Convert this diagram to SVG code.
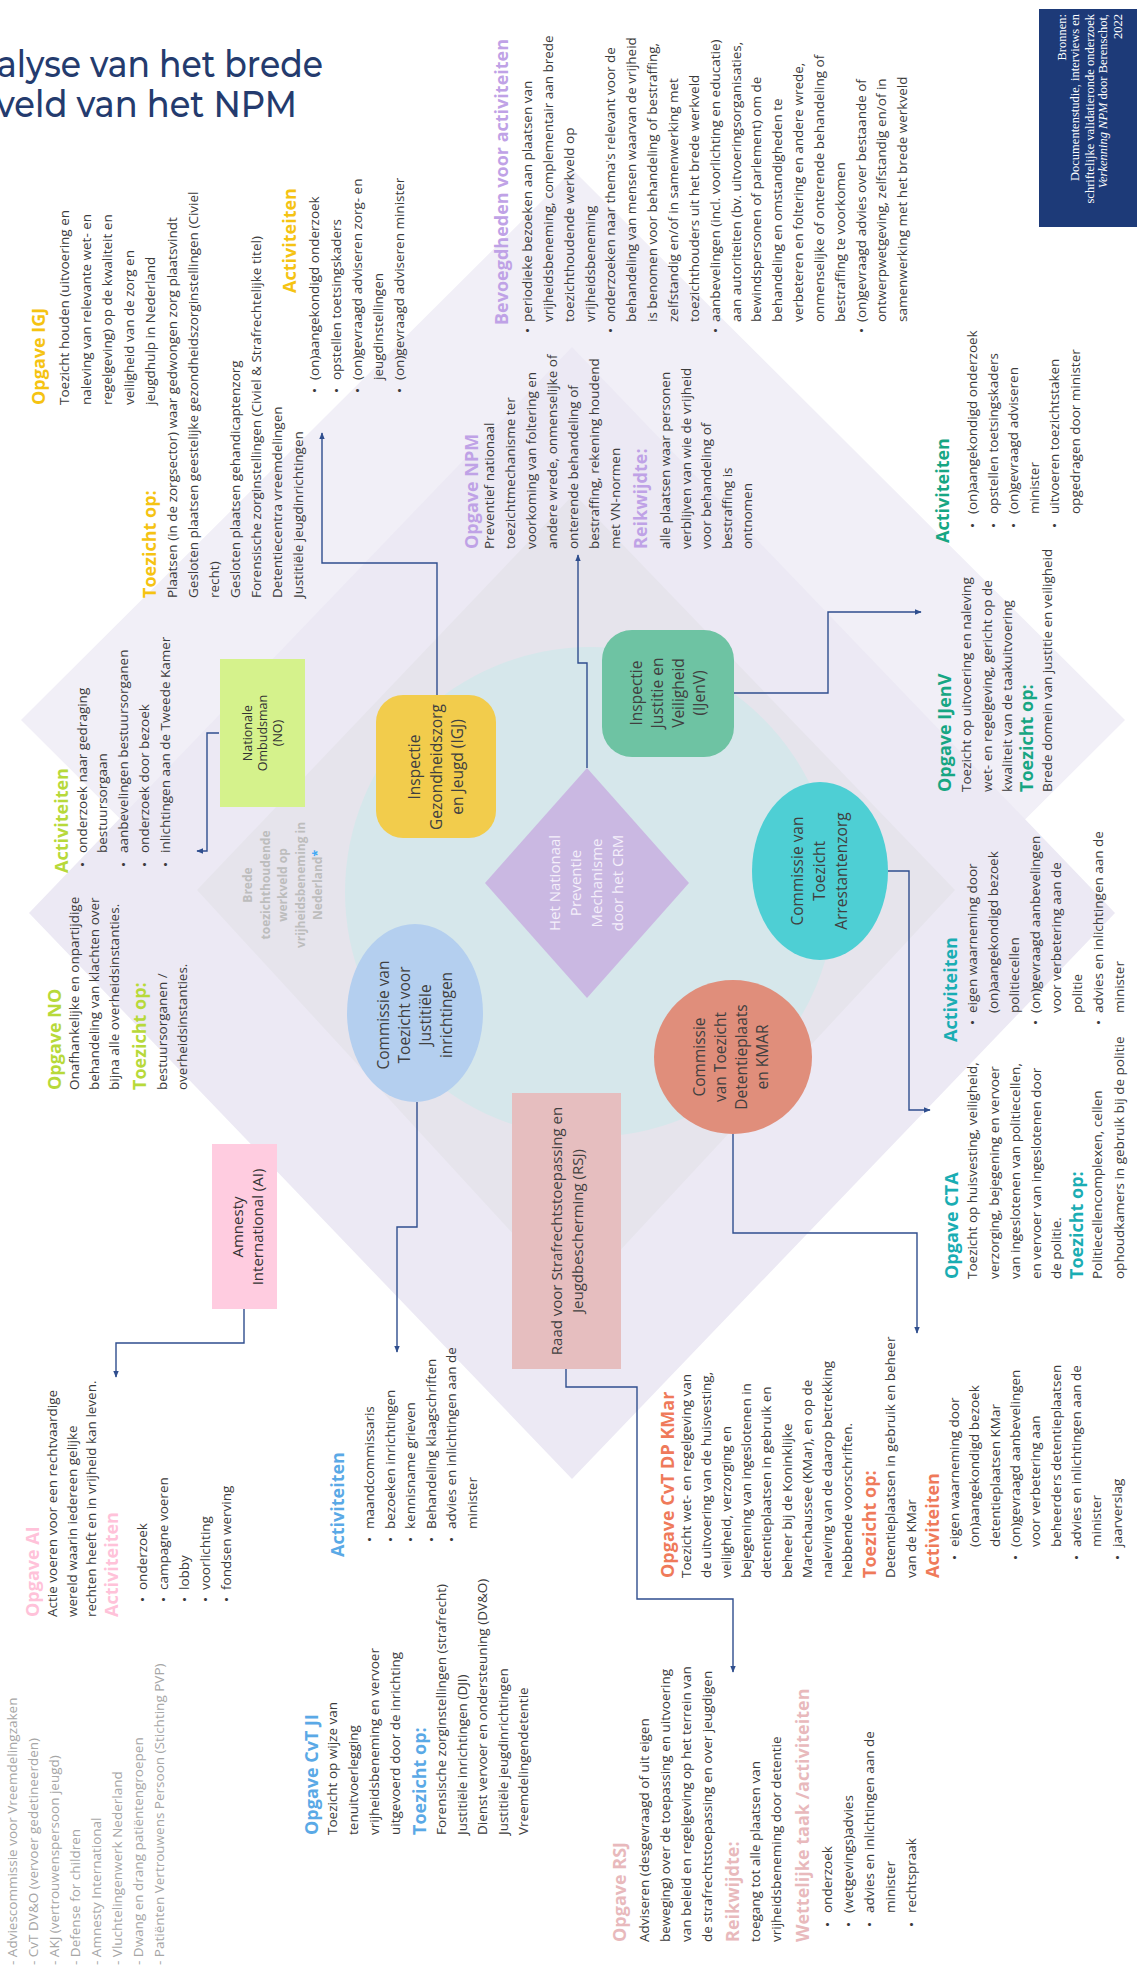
<svg xmlns="http://www.w3.org/2000/svg" width="1137" height="1972" viewBox="0 0 1137 1972">
<defs>
<marker id="ah" viewBox="0 0 10 10" refX="9" refY="5" markerWidth="7" markerHeight="7" orient="auto" markerUnits="userSpaceOnUse"><path d="M0,1 L10,5 L0,9 z" fill="#2F4E8E"/></marker>
<style>
.t{font-family:"Open Sans","Liberation Sans",sans-serif;font-size:13.5px;fill:#3b3b3b}
.h{font-weight:700;font-size:18px}
.lbl{font-family:"Open Sans","Liberation Sans",sans-serif;font-size:15.5px;fill:#404040;text-anchor:middle}
.cn{fill:none;stroke:#2F4E8E;stroke-width:1.4;marker-end:url(#ah)}
.igj{fill:#F5C312}.npm{fill:#BFA2E6}.no{fill:#B7D93A}.ai{fill:#FFC2D9}.ji{fill:#5AA9E6}.rsj{fill:#E8B9BC}.kmar{fill:#EF7A5A}.cta{fill:#1AADB3}.ijv{fill:#17A683}
.grey{fill:#A6A6A6}
</style>
</defs>
<rect width="1137" height="1972" fill="#ffffff"/>
<g id="background">
<polygon points="573,170 1125,720 573,1270 21,720" fill="#F1EFF7"/>
<polygon points="572,347 1115,913 572,1479 29,913" fill="#ECE9F4"/>
<polygon points="574,494 955,890 574,1300 197,890" fill="#E6E4EC"/>
<circle cx="590" cy="892" r="245" fill="#D6E7EB"/>
</g>
<g id="title">
<text x="-3" y="77" textLength="326" lengthAdjust="spacingAndGlyphs" font-family="Montserrat, Inter, 'Noto Sans', sans-serif" font-size="37" font-weight="500" fill="#243B6E">alyse van het brede</text>
<text x="-4" y="117" textLength="301" lengthAdjust="spacingAndGlyphs" font-family="Montserrat, Inter, 'Noto Sans', sans-serif" font-size="37" font-weight="500" fill="#243B6E">veld van het NPM</text>
</g>
<g id="bronnen">
<rect x="1039" y="9" width="98" height="218" fill="#1D3A78"/>
<text transform="translate(0,14) rotate(-90)" text-anchor="end" font-family="'Liberation Serif', serif" font-size="12.5" fill="#ffffff"><tspan x="0" y="1065.5">Bronnen:</tspan><tspan x="0" y="1079">Documentenstudie, interviews en</tspan><tspan x="0" y="1093.5">schriftelijke validatieronde onderzoek</tspan><tspan x="0" y="1107"><tspan font-style="italic">Verkenning NPM</tspan> door Berenschot,</tspan><tspan x="0" y="1121.5">2022</tspan></text>
</g>
<g id="connectors">
<path class="cn" d="M219,733 H207 V851 H197"/>
<path class="cn" d="M437,695 V563 H322 V433"/>
<path class="cn" d="M587,768 V663 H578 V555"/>
<path class="cn" d="M734,693 H828 V612 H921"/>
<path class="cn" d="M888,871 H909 V1110 H930"/>
<path class="cn" d="M733,1133 V1233 H917 V1333"/>
<path class="cn" d="M417,1102 V1227 H397 V1352"/>
<path class="cn" d="M566,1369 V1387 H637 V1599 H733 V1672"/>
<path class="cn" d="M244,1309 V1343 H116 V1377"/>
</g>
<g id="node-npm">
<polygon points="587,768 689,883 587,998 485,883" fill="#CAB8E2"/>
<text class="lbl" style="fill:#F4EFFA;font-size:15px" transform="translate(0,883) rotate(-90)"><tspan x="0" y="560">Het Nationaal</tspan><tspan x="0" y="581">Preventie</tspan><tspan x="0" y="602">Mechanisme</tspan><tspan x="0" y="623">door het CRM</tspan></text>
</g>
<g id="node-igj">
<rect x="376" y="695" width="120" height="143" rx="27" fill="#F2CC4C"/>
<text class="lbl" transform="translate(0,767) rotate(-90)"><tspan x="0" y="420">Inspectie</tspan><tspan x="0" y="442">Gezondheidszorg</tspan><tspan x="0" y="463">en Jeugd (IGJ)</tspan></text>
</g>
<g id="node-ijenv">
<rect x="602" y="630" width="132" height="127" rx="30" fill="#6EC3A3"/>
<text class="lbl" transform="translate(0,693) rotate(-90)"><tspan x="0" y="642">Inspectie</tspan><tspan x="0" y="663">Justitie en</tspan><tspan x="0" y="684">Veiligheid</tspan><tspan x="0" y="705">(IJenV)</tspan></text>
</g>
<g id="node-cta">
<ellipse cx="820" cy="871" rx="68" ry="89" fill="#4ECFD4"/>
<text class="lbl" transform="translate(0,871) rotate(-90)"><tspan x="0" y="803">Commissie van</tspan><tspan x="0" y="825">Toezicht</tspan><tspan x="0" y="847">Arrestantenzorg</tspan></text>
</g>
<g id="node-kmar">
<ellipse cx="733" cy="1057" rx="79" ry="77" fill="#E08E7B"/>
<text class="lbl" transform="translate(0,1057) rotate(-90)"><tspan x="0" y="705">Commissie</tspan><tspan x="0" y="726">van Toezicht</tspan><tspan x="0" y="747">Detentieplaats</tspan><tspan x="0" y="768">en KMAR</tspan></text>
</g>
<g id="node-cvtji">
<ellipse cx="415" cy="1013" rx="68" ry="89" fill="#B4CFEF"/>
<text class="lbl" transform="translate(0,1015) rotate(-90)"><tspan x="0" y="389">Commissie van</tspan><tspan x="0" y="410">Toezicht voor</tspan><tspan x="0" y="431">Justitiële</tspan><tspan x="0" y="452">inrichtingen</tspan></text>
</g>
<g id="node-rsj">
<rect x="512" y="1093" width="109" height="276" fill="#E6BEBF"/>
<text class="lbl" style="font-size:15px" transform="translate(0,1231) rotate(-90)"><tspan x="0" y="562">Raad voor Strafrechtstoepassing en</tspan><tspan x="0" y="583">Jeugdbescherming (RSJ)</tspan></text>
</g>
<g id="node-no">
<rect x="220" y="659" width="85" height="148" fill="#D5F28C"/>
<text class="lbl" style="font-size:12.5px;fill:#333" transform="translate(0,733) rotate(-90)"><tspan x="0" y="252">Nationale</tspan><tspan x="0" y="267">Ombudsman</tspan><tspan x="0" y="282">(NO)</tspan></text>
</g>
<g id="node-ai">
<rect x="212" y="1144" width="65" height="165" fill="#FFCCE0"/>
<text class="lbl" style="font-size:15px;fill:#333" transform="translate(0,1227) rotate(-90)"><tspan x="0" y="243">Amnesty</tspan><tspan x="0" y="263">International (AI)</tspan></text>
</g>
<g id="label-brede">
<text class="lbl" style="font-size:12px;font-weight:700;fill:#BDBDBD" transform="translate(0,885) rotate(-90)"><tspan x="0" y="252">Brede</tspan><tspan x="0" y="269.5">toezichthoudende</tspan><tspan x="0" y="287">werkveld op</tspan><tspan x="0" y="304.5">vrijheidsbeneming in</tspan><tspan x="0" y="322">Nederland<tspan style="fill:#3FA9F5">*</tspan></tspan></text>
</g>
<g id="text-igj">
<text class="t" transform="translate(0,405) rotate(-90)"><tspan class="h igj" x="0" y="45">Opgave IGJ</tspan><tspan x="0" y="69">Toezicht houden (uitvoering en</tspan><tspan x="0" y="90.5">naleving van relevante wet- en</tspan><tspan x="0" y="112">regelgeving) op de kwaliteit en</tspan><tspan x="0" y="133.5">veiligheid van de zorg en</tspan><tspan x="0" y="155">jeugdhulp in Nederland</tspan></text>
<text class="t" transform="translate(0,598) rotate(-90)"><tspan class="h igj" x="0" y="156">Toezicht op:</tspan><tspan x="0" y="177">Plaatsen (in de zorgsector) waar gedwongen zorg plaatsvindt</tspan><tspan x="0" y="198">Gesloten plaatsen geestelijke gezondheidszorginstellingen (Civiel</tspan><tspan x="0" y="219">recht)</tspan><tspan x="0" y="240">Gesloten plaatsen gehandicaptenzorg</tspan><tspan x="0" y="261">Forensische zorginstellingen (Civiel &amp; Strafrechtelijke titel)</tspan><tspan x="0" y="282">Detentiecentra vreemdelingen</tspan><tspan x="0" y="303">Justitiële jeugdinrichtingen</tspan></text>
<text class="t" transform="translate(0,293) rotate(-90)"><tspan class="h igj" x="0" y="296">Activiteiten</tspan></text>
<text class="t" transform="translate(0,393) rotate(-90)"><tspan x="0" y="319">•</tspan><tspan x="13" y="319">(on)aangekondigd onderzoek</tspan><tspan x="0" y="340.5">•</tspan><tspan x="13" y="340.5">opstellen toetsingskaders</tspan><tspan x="0" y="362">•</tspan><tspan x="13" y="362">(on)gevraagd adviseren zorg- en</tspan><tspan x="13" y="383">jeugdinstellingen</tspan><tspan x="0" y="404">•</tspan><tspan x="13" y="404">(on)gevraagd adviseren minister</tspan></text>
</g>
<g id="text-npm">
<text class="t" transform="translate(0,549) rotate(-90)"><tspan class="h npm" x="0" y="478">Opgave NPM</tspan><tspan x="0" y="494">Preventief nationaal</tspan><tspan x="0" y="515">toezichtmechanisme ter</tspan><tspan x="0" y="536">voorkoming van foltering en</tspan><tspan x="0" y="557">andere wrede, onmenselijke of</tspan><tspan x="0" y="578">onterende behandeling of</tspan><tspan x="0" y="599">bestraffing, rekening houdend</tspan><tspan x="0" y="620">met VN-normen</tspan><tspan class="h npm" x="0" y="647">Reikwijdte:</tspan><tspan x="0" y="670">alle plaatsen waar personen</tspan><tspan x="0" y="690.5">verblijven van wie de vrijheid</tspan><tspan x="0" y="711">voor behandeling of</tspan><tspan x="0" y="731.5">bestraffing is</tspan><tspan x="0" y="752">ontnomen</tspan></text>
<text class="t" transform="translate(0,325) rotate(-90)"><tspan class="h npm" x="0" y="508">Bevoegdheden voor activiteiten</tspan></text>
<text class="t" transform="translate(0,333) rotate(-90)"><tspan x="0" y="532">•</tspan><tspan x="11" y="532">periodieke bezoeken aan plaatsen van</tspan><tspan x="11" y="552.85">vrijheidsbeneming, complementair aan brede</tspan><tspan x="11" y="573.7">toezichthoudende werkveld op</tspan><tspan x="11" y="594.55">vrijheidsbeneming</tspan><tspan x="0" y="615.4">•</tspan><tspan x="11" y="615.4">onderzoeken naar thema's relevant voor de</tspan><tspan x="11" y="636.25">behandeling van mensen waarvan de vrijheid</tspan><tspan x="11" y="657.1">is benomen voor behandeling of bestraffing,</tspan><tspan x="11" y="677.95">zelfstandig en/of in samenwerking met</tspan><tspan x="11" y="698.8">toezichthouders uit het brede werkveld</tspan><tspan x="0" y="719.65">•</tspan><tspan x="11" y="719.65">aanbevelingen (incl. voorlichting en educatie)</tspan><tspan x="11" y="740.5">aan autoriteiten (bv. uitvoeringsorganisaties,</tspan><tspan x="11" y="761.35">bewindspersonen of parlement) om de</tspan><tspan x="11" y="782.2">behandeling en omstandigheden te</tspan><tspan x="11" y="803.05">verbeteren en foltering en andere wrede,</tspan><tspan x="11" y="823.9">onmenselijke of onterende behandeling of</tspan><tspan x="11" y="844.75">bestraffing te voorkomen</tspan><tspan x="0" y="865.6">•</tspan><tspan x="11" y="865.6">(on)gevraagd advies over bestaande of</tspan><tspan x="11" y="886.45">ontwerpwetgeving, zelfstandig en/of in</tspan><tspan x="11" y="907.3">samenwerking met het brede werkveld</tspan></text>
</g>
<g id="text-no">
<text class="t" transform="translate(0,1090) rotate(-90)"><tspan class="h no" x="0" y="61">Opgave NO</tspan><tspan x="0" y="79">Onafhankelijke en onpartijdige</tspan><tspan x="0" y="99">behandeling van klachten over</tspan><tspan x="0" y="119">bijna alle overheidsinstanties.</tspan><tspan class="h no" x="0" y="146">Toezicht op:</tspan><tspan x="0" y="167">bestuursorganen /</tspan><tspan x="0" y="187">overheidsinstanties.</tspan></text>
<text class="t" transform="translate(0,873) rotate(-90)"><tspan class="h no" x="0" y="68">Activiteiten</tspan></text>
<text class="t" transform="translate(0,867) rotate(-90)"><tspan x="0" y="87">•</tspan><tspan x="14" y="87">onderzoek naar gedraging</tspan><tspan x="14" y="107">bestuursorgaan</tspan><tspan x="0" y="128">•</tspan><tspan x="14" y="128">aanbevelingen bestuursorganen</tspan><tspan x="0" y="149">•</tspan><tspan x="14" y="149">onderzoek door bezoek</tspan><tspan x="0" y="170">•</tspan><tspan x="14" y="170">inlichtingen aan de Tweede Kamer</tspan></text>
</g>
<g id="text-ai">
<text class="t" transform="translate(0,1617) rotate(-90)"><tspan class="h ai" x="0" y="39">Opgave AI</tspan><tspan x="0" y="57">Actie voeren voor een rechtvaardige</tspan><tspan x="0" y="77">wereld waarin iedereen gelijke</tspan><tspan x="0" y="96">rechten heeft en in vrijheid kan leven.</tspan><tspan class="h ai" x="0" y="118">Activiteiten</tspan></text>
<text class="t" transform="translate(0,1602) rotate(-90)"><tspan x="0" y="147">•</tspan><tspan x="12" y="147">onderzoek</tspan><tspan x="0" y="168">•</tspan><tspan x="12" y="168">campagne voeren</tspan><tspan x="0" y="189">•</tspan><tspan x="12" y="189">lobby</tspan><tspan x="0" y="210">•</tspan><tspan x="12" y="210">voorlichting</tspan><tspan x="0" y="231">•</tspan><tspan x="12" y="231">fondsen werving</tspan></text>
</g>
<g id="text-list">
<text class="t grey" transform="translate(0,1965) rotate(-90)"><tspan x="0" y="17">- Adviescommissie voor Vreemdelingzaken</tspan><tspan x="0" y="38">- CvT DV&amp;O (vervoer gedetineerden)</tspan><tspan x="0" y="59">- AKJ (vertrouwenspersoon jeugd)</tspan><tspan x="0" y="80">- Defense for children</tspan><tspan x="0" y="101">- Amnesty International</tspan><tspan x="0" y="122">- Vluchtelingenwerk Nederland</tspan><tspan x="0" y="143">- Dwang en drang patiëntengroepen</tspan><tspan x="0" y="164">- Patiënten Vertrouwens Persoon (Stichting PVP)</tspan></text>
</g>
<g id="text-cvtji">
<text class="t" transform="translate(0,1835) rotate(-90)"><tspan class="h ji" x="0" y="318">Opgave CvT JI</tspan><tspan x="0" y="337">Toezicht op wijze van</tspan><tspan x="0" y="358">tenuitvoerlegging</tspan><tspan x="0" y="379">vrijheidsbeneming en vervoer</tspan><tspan x="0" y="400">uitgevoerd door de inrichting</tspan><tspan class="h ji" x="0" y="426">Toezicht op:</tspan><tspan x="0" y="446">Forensische zorginstellingen (strafrecht)</tspan><tspan x="0" y="466.5">Justitiële inrichtingen (DJI)</tspan><tspan x="0" y="487">Dienst vervoer en ondersteuning (DV&amp;O)</tspan><tspan x="0" y="507.5">Justitiële jeugdinrichtingen</tspan><tspan x="0" y="528">Vreemdelingendetentie</tspan></text>
<text class="t" transform="translate(0,1557) rotate(-90)"><tspan class="h ji" x="0" y="344">Activiteiten</tspan></text>
<text class="t" transform="translate(0,1542) rotate(-90)"><tspan x="0" y="374">•</tspan><tspan x="13" y="374">maandcommissaris</tspan><tspan x="0" y="394.5">•</tspan><tspan x="13" y="394.5">bezoeken inrichtingen</tspan><tspan x="0" y="415">•</tspan><tspan x="13" y="415">kennisname grieven</tspan><tspan x="0" y="435.5">•</tspan><tspan x="13" y="435.5">Behandeling klaagschriften</tspan><tspan x="0" y="456">•</tspan><tspan x="13" y="456">advies en inlichtingen aan de</tspan><tspan x="13" y="476.5">minister</tspan></text>
</g>
<g id="text-rsj">
<text class="t" transform="translate(0,1942) rotate(-90)"><tspan class="h rsj" x="0" y="626">Opgave RSJ</tspan><tspan x="0" y="649">Adviseren (desgevraagd of uit eigen</tspan><tspan x="0" y="670">beweging) over de toepassing en uitvoering</tspan><tspan x="0" y="691">van beleid en regelgeving op het terrein van</tspan><tspan x="0" y="712">de strafrechtstoepassing en over jeugdigen</tspan><tspan class="h rsj" x="0" y="739">Reikwijdte:</tspan><tspan x="0" y="760">toegang tot alle plaatsen van</tspan><tspan x="0" y="781">vrijheidsbeneming door detentie</tspan><tspan class="h rsj" x="0" y="809">Wettelijke taak /activiteiten</tspan></text>
<text class="t" transform="translate(0,1927) rotate(-90)"><tspan x="0" y="832">•</tspan><tspan x="14" y="832">onderzoek</tspan><tspan x="0" y="853">•</tspan><tspan x="14" y="853">(wetgevings)advies</tspan><tspan x="0" y="874">•</tspan><tspan x="14" y="874">advies en inlichtingen aan de</tspan><tspan x="14" y="895">minister</tspan><tspan x="0" y="916">•</tspan><tspan x="14" y="916">rechtspraak</tspan></text>
</g>
<g id="text-kmar">
<text class="t" transform="translate(0,1578) rotate(-90)"><tspan class="h kmar" x="0" y="674">Opgave CvT DP KMar</tspan><tspan x="0" y="691">Toezicht wet- en regelgeving van</tspan><tspan x="0" y="711.1">de uitvoering van de huisvesting,</tspan><tspan x="0" y="731.2">veiligheid, verzorging en</tspan><tspan x="0" y="751.3">bejegening van ingeslotenen in</tspan><tspan x="0" y="771.4">detentieplaatsen in gebruik en</tspan><tspan x="0" y="791.5">beheer bij de Koninklijke</tspan><tspan x="0" y="811.6">Marechaussee (KMar), en op de</tspan><tspan x="0" y="831.7">naleving van de daarop betrekking</tspan><tspan x="0" y="851.8">hebbende voorschriften.</tspan><tspan class="h kmar" x="0" y="876">Toezicht op:</tspan><tspan x="0" y="895">Detentieplaatsen in gebruik en beheer</tspan><tspan x="0" y="916">van de KMar</tspan><tspan class="h kmar" x="0" y="939">Activiteiten</tspan></text>
<text class="t" transform="translate(0,1560) rotate(-90)"><tspan x="0" y="959">•</tspan><tspan x="13" y="959">eigen waarneming door</tspan><tspan x="13" y="979.3">(on)aangekondigd bezoek</tspan><tspan x="13" y="999.6">detentieplaatsen KMar</tspan><tspan x="0" y="1019.9">•</tspan><tspan x="13" y="1019.9">(on)gevraagd aanbevelingen</tspan><tspan x="13" y="1040.2">voor verbetering aan</tspan><tspan x="13" y="1060.5">beheerders detentieplaatsen</tspan><tspan x="0" y="1080.8">•</tspan><tspan x="13" y="1080.8">advies en inlichtingen aan de</tspan><tspan x="13" y="1101.1">minister</tspan><tspan x="0" y="1122">•</tspan><tspan x="13" y="1122">jaarverslag</tspan></text>
</g>
<g id="text-cta">
<text class="t" transform="translate(0,1279) rotate(-90)"><tspan class="h cta" x="0" y="958">Opgave CTA</tspan><tspan x="0" y="977">Toezicht op huisvesting, veiligheid,</tspan><tspan x="0" y="998.5">verzorging, bejegening en vervoer</tspan><tspan x="0" y="1020">van ingeslotenen van politiecellen,</tspan><tspan x="0" y="1041">en vervoer van ingeslotenen door</tspan><tspan x="0" y="1061">de politie.</tspan><tspan class="h cta" x="0" y="1083">Toezicht op:</tspan><tspan x="0" y="1102">Politiecellencomplexen, cellen</tspan><tspan x="0" y="1124">ophoudkamers in gebruik bij de politie</tspan></text>
<text class="t" transform="translate(0,1042) rotate(-90)"><tspan class="h cta" x="0" y="957">Activiteiten</tspan></text>
<text class="t" transform="translate(0,1025) rotate(-90)"><tspan x="0" y="977">•</tspan><tspan x="12" y="977">eigen waarneming door</tspan><tspan x="12" y="998">(on)aangekondigd bezoek</tspan><tspan x="12" y="1019">politiecellen</tspan><tspan x="0" y="1040">•</tspan><tspan x="12" y="1040">(on)gevraagd aanbevelingen</tspan><tspan x="12" y="1061">voor verbetering aan de</tspan><tspan x="12" y="1082">politie</tspan><tspan x="0" y="1103">•</tspan><tspan x="12" y="1103">advies en inlichtingen aan de</tspan><tspan x="12" y="1124">minister</tspan></text>
</g>
<g id="text-ijenv">
<text class="t" transform="translate(0,792) rotate(-90)"><tspan class="h ijv" x="0" y="951">Opgave IJenV</tspan><tspan x="0" y="971">Toezicht op uitvoering en naleving</tspan><tspan x="0" y="991.5">wet- en regelgeving, gericht op de</tspan><tspan x="0" y="1012">kwaliteit van de taakuitvoering</tspan><tspan class="h ijv" x="0" y="1033">Toezicht op:</tspan><tspan x="0" y="1052">Brede domein van justitie en veiligheid</tspan></text>
<text class="t" transform="translate(0,543) rotate(-90)"><tspan class="h ijv" x="0" y="949">Activiteiten</tspan></text>
<text class="t" transform="translate(0,528) rotate(-90)"><tspan x="0" y="977">•</tspan><tspan x="14" y="977">(on)aangekondigd onderzoek</tspan><tspan x="0" y="997.5">•</tspan><tspan x="14" y="997.5">opstellen toetsingskaders</tspan><tspan x="0" y="1018">•</tspan><tspan x="14" y="1018">(on)gevraagd adviseren</tspan><tspan x="14" y="1038.5">minister</tspan><tspan x="0" y="1059">•</tspan><tspan x="14" y="1059">uitvoeren toezichtstaken</tspan><tspan x="14" y="1079.5">opgedragen door minister</tspan></text>
</g>
</svg>
